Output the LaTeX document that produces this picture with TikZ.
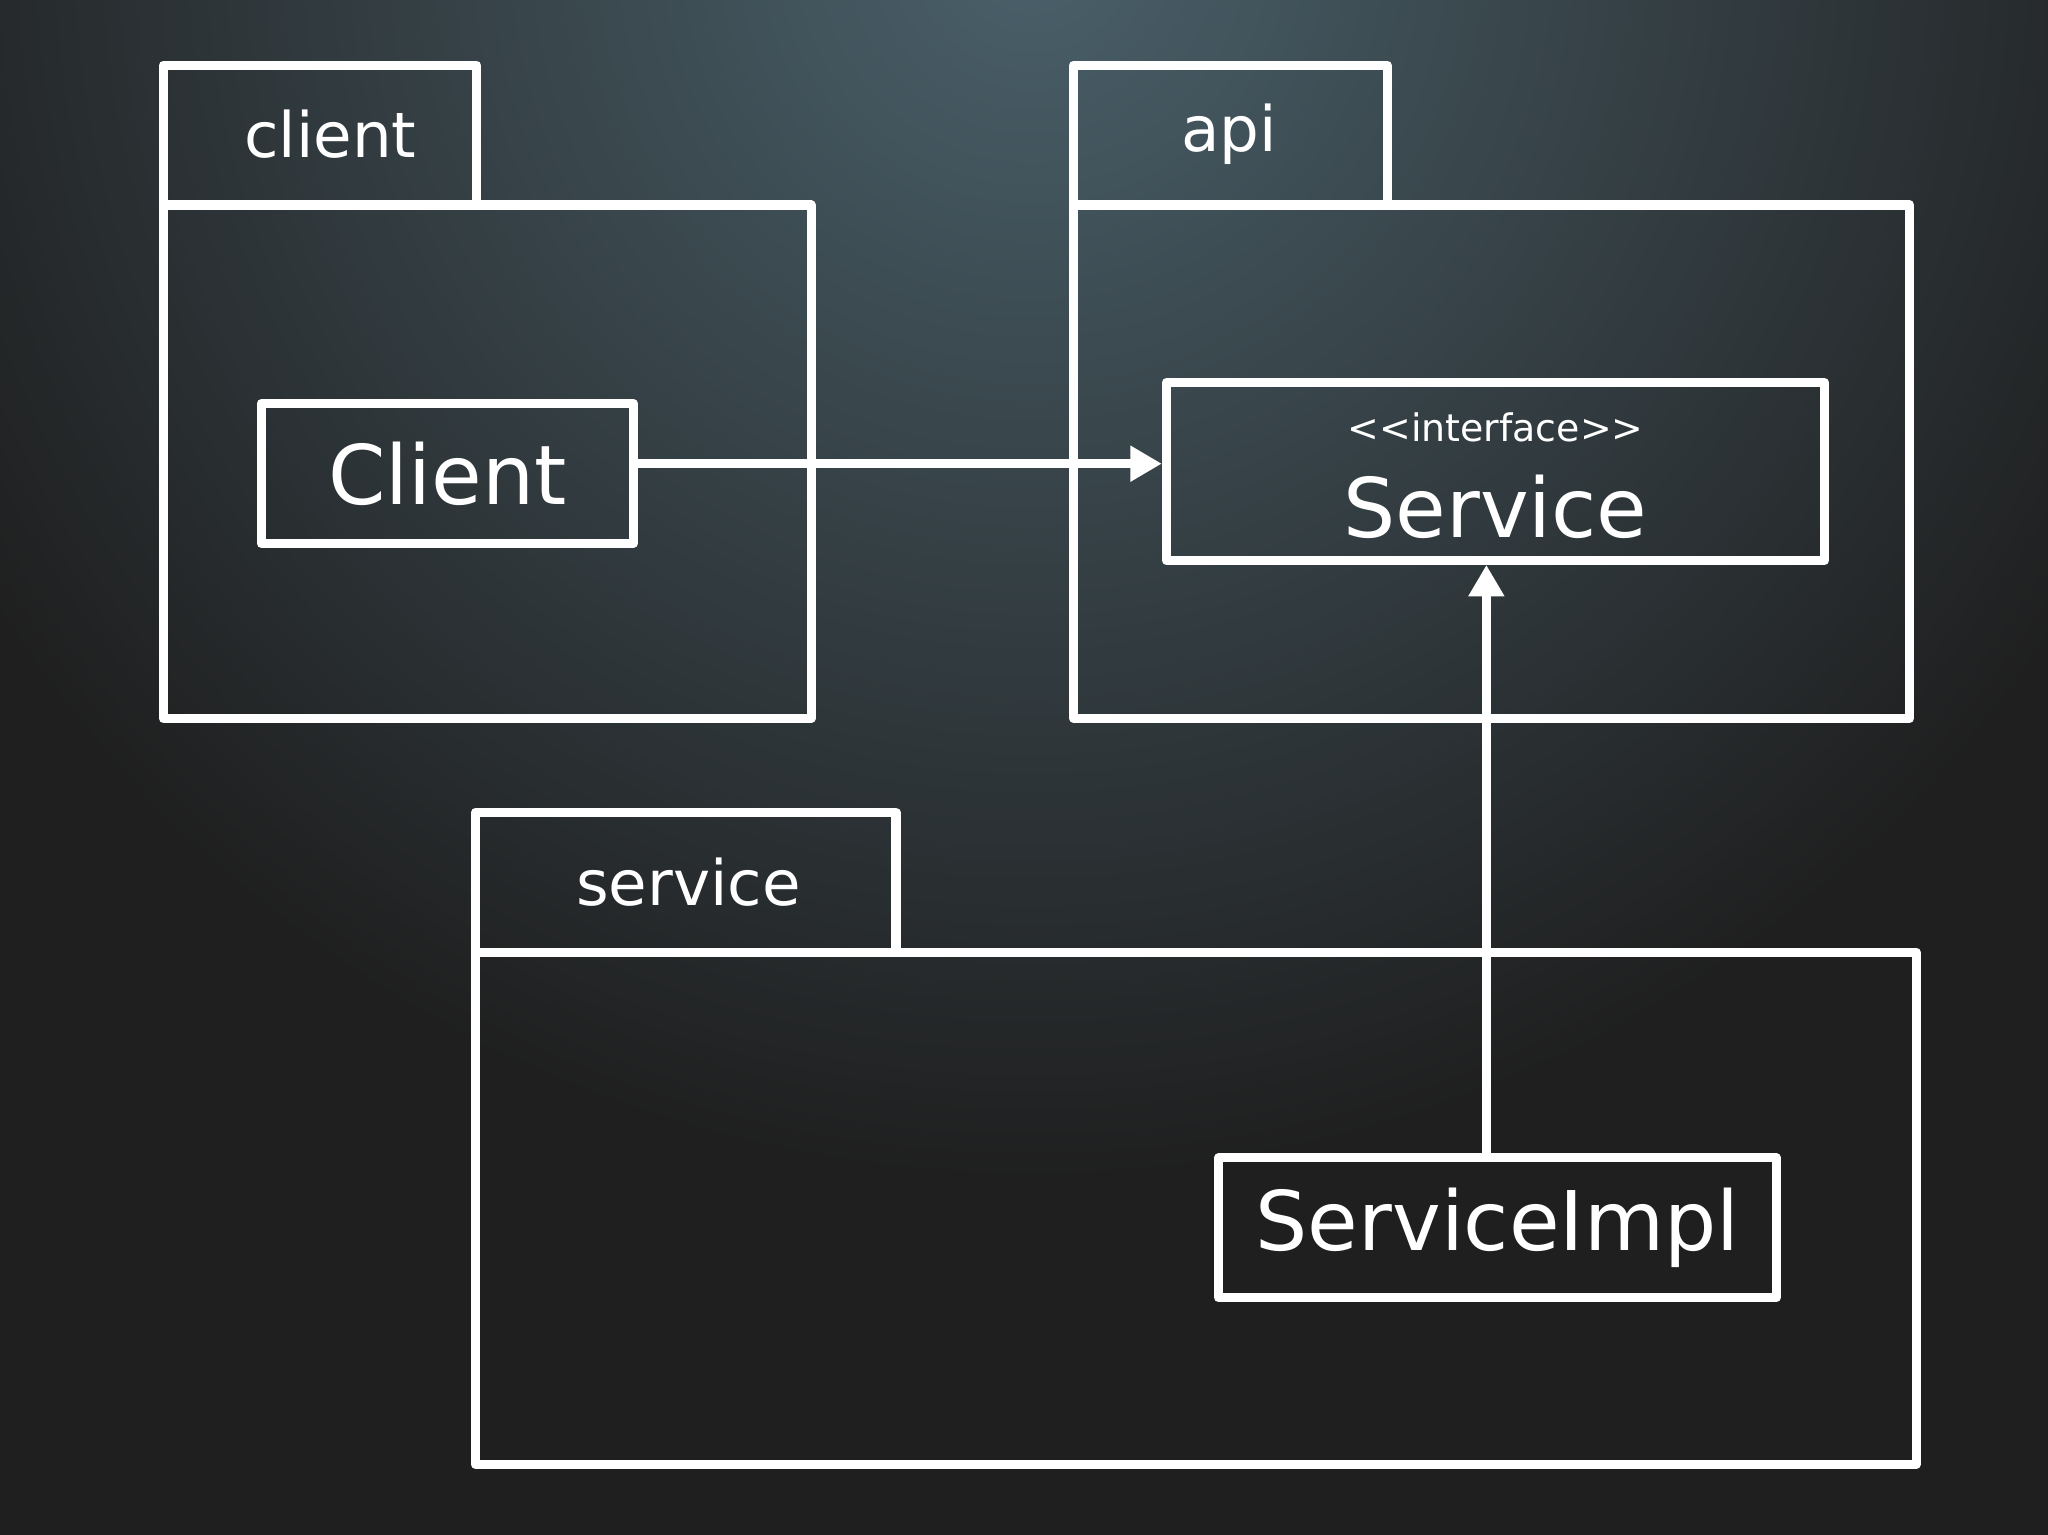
\documentclass[tikz,border=0pt]{standalone}
\usepackage{fontspec}
\setmainfont{DejaVu Sans}
\usetikzlibrary{arrows.meta}
\begin{document}
\begin{tikzpicture}[x=1pt,y=-1pt,
  ln/.style={draw=white,line width=7pt,line join=round},
  cls/.style={ln,minimum width=#1,minimum height=107pt,inner sep=0pt,text=white},
  big/.style={font=\fontsize{63}{67}\selectfont},
  pk/.style={text=white,font=\fontsize{48}{52}\selectfont},
  arr/.style={draw=white,line width=7pt,-{Triangle[length=24pt,width=26pt]}}]
\fill[black!88] (0,0) rectangle (1568,1175);
\begin{scope}
\clip (0,0) rectangle (1568,1175);
\shade[inner color={rgb,255:red,74;green,96;blue,106},outer color=black!88] (790,-40) circle (950);
\end{scope}
\useasboundingbox (0,0) rectangle (1568,1175);
% packages
\draw[ln] (125,157) -- (125,50) -- (365,50) -- (365,157);
\draw[ln] (125,157) rectangle (621,550);
\node[pk] (lc) at (253,103) {client};
\draw[ln] (822,157) -- (822,50) -- (1062,50) -- (1062,157);
\draw[ln] (822,157) rectangle (1462,550);
\node[pk] (la) at (941,103) {api};
\draw[ln] (364,729) -- (364,622) -- (686,622) -- (686,729);
\draw[ln] (364,729) rectangle (1467,1121);
\node[pk] (ls) at (527,675) {service};
% classes
\node[cls=285pt,big] (client) at (342.5,362.5) {Client};
\node[cls=504pt,minimum height=136pt] (service) at (1145,361) {};
\node[text=white,font=\fontsize{29}{32}\selectfont] (st) at (1145,327) {{<}{<}interface{>}{>}};
\node[text=white,big] (sn) at (1145,388) {Service};
\node[cls=427pt,big] (impl) at (1146.5,940) {ServiceImpl};
\coordinate (a0) at (485,355);
\draw[arr] (a0) -- (a0 -| service.west);
\draw[arr] (impl.north -| 1138,0) -- (service.south -| 1138,0);
\end{tikzpicture}
\end{document}
